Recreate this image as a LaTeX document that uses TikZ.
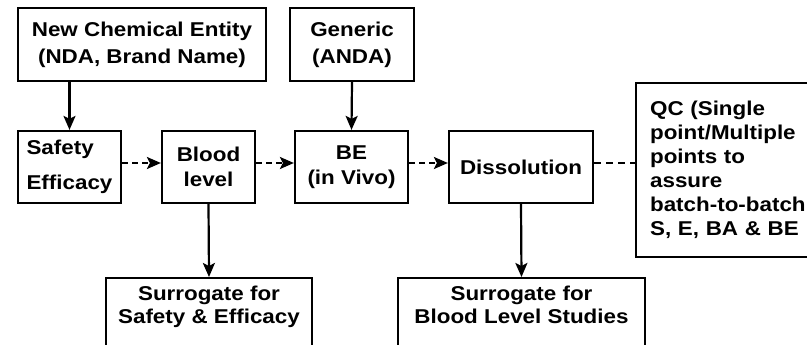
\documentclass[tikz,border=0pt]{standalone}
\usepackage{fontspec}
\setmainfont{Liberation Sans}[FakeStretch=1.12]
\usetikzlibrary{arrows.meta}

\tikzset{
  stagebox/.style={
    draw,
    line width=2.2pt,
    align=center,
    inner sep=0pt,
    minimum height=72pt,
  },
  solidarr/.style={line width=2.2pt,-{Stealth[length=14pt,width=12pt,inset=3pt]}},
  dasharr/.style={line width=2.2pt,dash pattern=on 6pt off 4pt,-{Stealth[length=14pt,width=12pt,inset=3pt]}},
  dashline/.style={line width=2.2pt,dash pattern=on 7pt off 5pt},
}

\begin{document}
\begin{tikzpicture}[x=1pt,y=-1pt,font=\fontsize{20}{24}\selectfont\bfseries]

    \useasboundingbox (0,0) rectangle (807,345);
    \clip (0,0) rectangle (807,345);

    % top row
    \node[stagebox,minimum width=248pt,minimum height=73pt] (nce) at (142,44.5) {New Chemical Entity\\[3pt](NDA, Brand Name)};
    \node[stagebox,minimum width=124pt,minimum height=73pt] (gen) at (352,44.5) {Generic\\[3pt](ANDA)};

    % middle row
    \node[stagebox,minimum width=103pt,align=left] (safe) at (69.5,167) {Safety\\[11pt]Efficacy};
    \node[stagebox,minimum width=93pt] (blood) at (208.5,167) {Blood\\[1pt]level};
    \node[stagebox,minimum width=113pt] (be) at (351.5,167) {BE\\[1pt](in Vivo)};
    \node[stagebox,minimum width=144pt] (diss) at (521,167) {Dissolution};
    \node[stagebox,anchor=north west,minimum height=174pt,inner xsep=14pt,text width=162pt,align=left] (qc) at (635,82)
      {QC (Single\\point/Multiple\\points to\\assure\\batch-to-batch\\S, E, BA \& BE};

    % bottom row
    \node[stagebox,anchor=north,minimum width=206pt,inner ysep=8pt,text depth=60pt,minimum height=0pt] (sse) at (209,277) {Surrogate for\\[-1pt]Safety \& Efficacy};
    \node[stagebox,anchor=north,minimum width=247pt,inner ysep=8pt,text depth=60pt,minimum height=0pt] (sbl) at (521.5,277) {Surrogate for\\[-1pt]Blood Level Studies};

    % connectors
    \draw[solidarr] (safe.north |- nce.south) -- (safe.north);
    \draw[solidarr] (gen.south) -- (be.north);
    \draw[solidarr] (blood.south) -- (sse.north);
    \draw[solidarr] (diss.south) -- (sbl.north);

    \coordinate (sb) at ([yshift=4pt]safe.east);
    \coordinate (bb) at ([yshift=4pt]blood.east);
    \coordinate (eb) at ([yshift=4pt]be.east);
    \coordinate (db) at ([yshift=4pt]diss.east);
    \draw[dasharr] (sb) -- (sb -| blood.west);
    \draw[dasharr] (bb) -- (bb -| be.west);
    \draw[dasharr] (eb) -- (eb -| diss.west);
    \draw[dashline] (db) -- (db -| qc.west);

\end{tikzpicture}
\end{document}
